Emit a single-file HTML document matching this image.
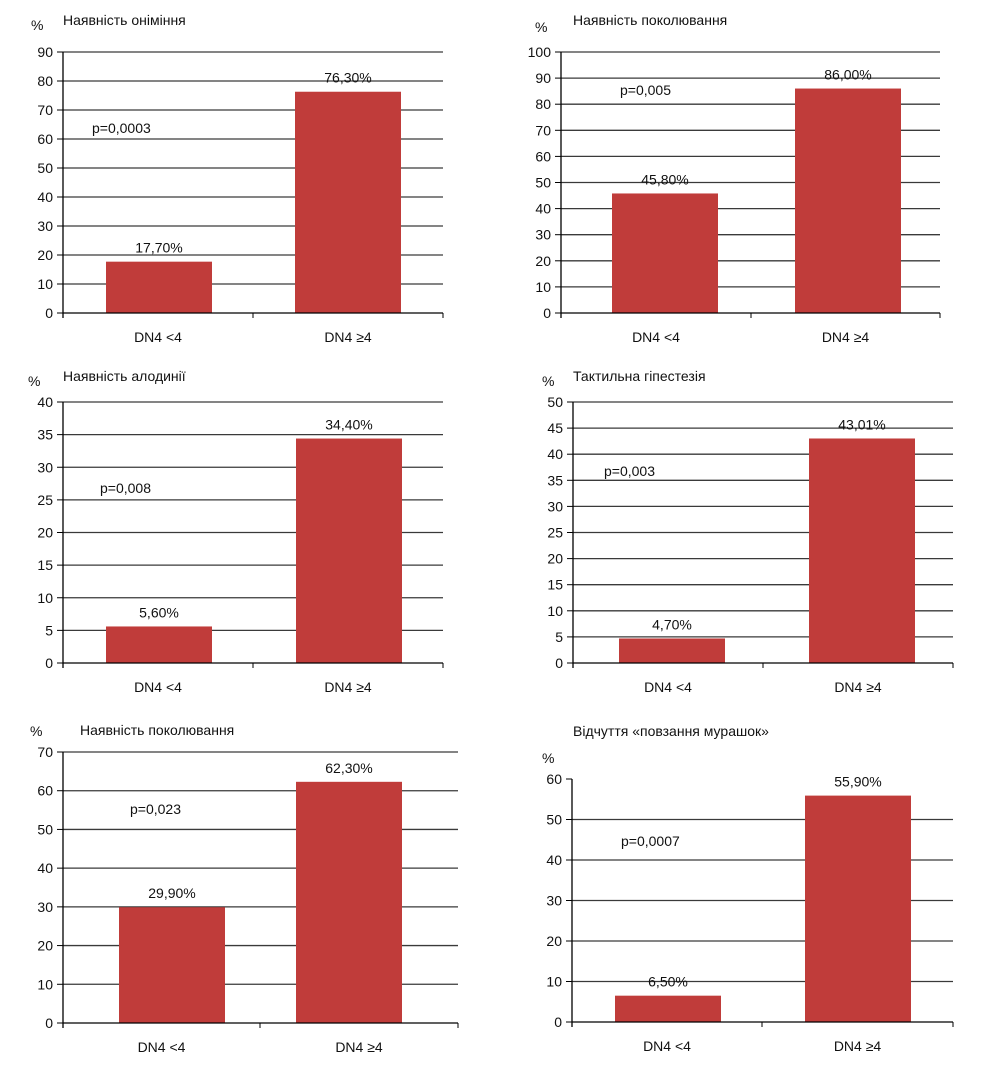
<!DOCTYPE html>
<html><head><meta charset="utf-8"><style>
body{margin:0;background:#fff;width:986px;height:1063px;overflow:hidden}
svg text{font-family:"Liberation Sans Narrow","Liberation Sans",sans-serif;font-size:14px;fill:#111}
</style></head><body>
<svg id="svg" width="986" height="1063"></svg>
<script>
const categories=["DN4 <4","DN4 ≥4"];
const titles=["Наявність оніміння","Наявність поколювання","Наявність алодинії","Тактильна гіпестезія","Наявність поколювання","Відчуття «повзання мурашок»"];
const valuesC1=[17.7,76.3];
const valuesC2=[45.8,86.0];
const valuesC3=[5.6,34.4];
const valuesC4=[4.7,43.01];
const valuesC5=[29.9,62.3];
const valuesC6=[6.5,55.9];
const valueLabels=[["17,70%","76,30%"],["45,80%","86,00%"],["5,60%","34,40%"],["4,70%","43,01%"],["29,90%","62,30%"],["6,50%","55,90%"]];
const pLabels=["p=0,0003","p=0,005","p=0,008","p=0,003","p=0,023","p=0,0007"];
const yMax=[90,100,40,50,70,60];
const yStep=[10,10,5,5,10,10];
const layouts=[
 {x0:63,x1:443,yTop:52,yBot:313,div:253,b:[106,295],bw:106,tx:63,ty:25,px:31,py:30,pX:92,pY:133,topLine:true},
 {x0:561,x1:940,yTop:52,yBot:313,div:751,b:[612,795],bw:106,tx:573,ty:25,px:535,py:32,pX:620,pY:95,topLine:true},
 {x0:63,x1:443,yTop:402,yBot:663,div:253,b:[106,296],bw:106,tx:63,ty:381,px:28,py:386,pX:100,pY:493,topLine:true},
 {x0:573,x1:953,yTop:402,yBot:663,div:763,b:[619,809],bw:106,tx:573,ty:381,px:542,py:386,pX:604,pY:476,topLine:true},
 {x0:63,x1:458,yTop:752,yBot:1023,div:260,b:[119,296],bw:106,tx:80,ty:735,px:30,py:736,pX:130,pY:814,topLine:true},
 {x0:572,x1:953,yTop:779,yBot:1022,div:762,b:[615,805],bw:106,tx:573,ty:736,px:542,py:763,pX:621,pY:846,topLine:false}
];
const allValues=[valuesC1,valuesC2,valuesC3,valuesC4,valuesC5,valuesC6];
const svg=document.getElementById('svg');
const NS="http://www.w3.org/2000/svg";
function mk(tag,attrs,parent,text){const e=document.createElementNS(NS,tag);for(const k in attrs)e.setAttribute(k,attrs[k]);if(text!==undefined)e.textContent=text;parent.appendChild(e);return e;}
allValues.forEach((vals,i)=>{
 const L=layouts[i];
 const g=mk('g',{},svg);
 
 
 const y=v=>L.yBot-(v/yMax[i])*(L.yBot-L.yTop);
 for(let t=0;t<=yMax[i];t+=yStep[i]){
  const yy=y(t);
  if(t>0&&(t<yMax[i]||L.topLine)){
   const gl=mk('line',{x1:L.x0,x2:L.x1,y1:yy,y2:yy,stroke:'#3a3a3a','stroke-width':1.3},g);
   
   
  }
  mk('line',{x1:L.x0-6,x2:L.x0,y1:yy,y2:yy,stroke:'#000','stroke-width':1},g);
  const tl=mk('text',{x:L.x0-10,y:yy+5,'text-anchor':'end'},g,String(t));
  
  
 }
 vals.forEach((v,j)=>{
  const r=mk('rect',{x:L.b[j],y:y(v),width:L.bw,height:L.yBot-y(v),fill:'#c03c3a'},g);
  
  
  const vl=mk('text',{x:L.b[j]+L.bw/2,y:y(v)-9,'text-anchor':'middle'},g,valueLabels[i][j]);
  
  
  const cx=(j===0?(L.x0+L.div)/2:(L.div+L.x1)/2);
  const cl=mk('text',{x:cx,y:L.yBot+29,'text-anchor':'middle'},g,categories[j]);
  
  
 });
 mk('line',{x1:L.x0,x2:L.x0,y1:L.yTop,y2:L.yBot+5,stroke:'#000','stroke-width':1.3},g);
 mk('line',{x1:L.x0,x2:L.x1,y1:L.yBot,y2:L.yBot,stroke:'#000','stroke-width':1.3},g);
 [L.div,L.x1].forEach(xx=>mk('line',{x1:xx,x2:xx,y1:L.yBot,y2:L.yBot+5,stroke:'#000','stroke-width':1},g));
 const tt=mk('text',{x:L.tx,y:L.ty},g,titles[i]);
 
 
 const pc=mk('text',{x:L.px,y:L.py},g,'%');
 
 
 const pv=mk('text',{x:L.pX,y:L.pY},g,pLabels[i]);
 
 
});
</script>
</body></html>
